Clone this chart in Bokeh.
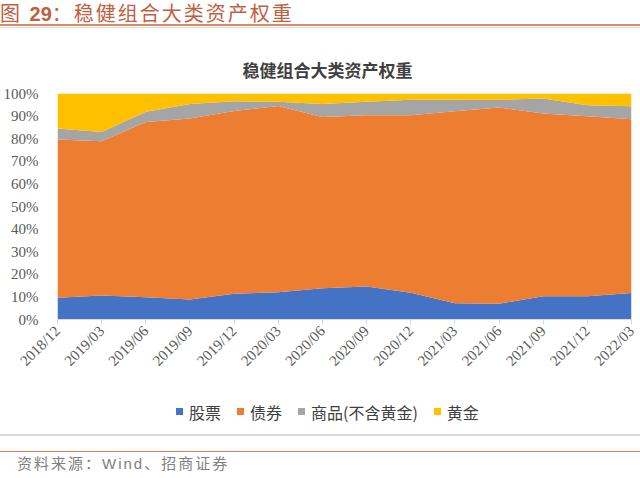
import math
from bokeh.plotting import figure
from bokeh.models import (ColumnDataSource, Range1d, FixedTicker, PrintfTickFormatter, Div)
from bokeh.layouts import column
from bokeh.embed import file_html
from bokeh.resources import INLINE

# ---- data ----
dates = ["2018/12", "2019/03", "2019/06", "2019/09", "2019/12", "2020/03", "2020/06",
         "2020/09", "2020/12", "2021/03", "2021/06", "2021/09", "2021/12", "2022/03"]
stock = [9.6, 10.6, 9.9, 8.9, 11.4, 12.1, 13.8, 14.6, 11.8, 7.2, 7.0, 10.3, 10.3, 11.7]
bond = [70.1, 68.3, 77.5, 80.0, 80.9, 82.4, 75.8, 75.8, 78.6, 85.0, 86.8, 80.8, 79.6, 76.9]
commodity = [4.8, 4.1, 4.5, 6.4, 4.3, 1.8, 5.7, 5.9, 6.8, 5.0, 3.4, 6.7, 4.9, 5.8]
gold = [15.5, 17.0, 8.1, 4.7, 3.4, 3.7, 4.7, 3.7, 2.8, 2.8, 2.8, 2.2, 5.2, 5.6]
series_names = ["股票", "债券", "商品(不含黄金)", "黄金"]
y_ticks = [0, 10, 20, 30, 40, 50, 60, 70, 80, 90, 100]

colors = ["#4472C4", "#ED7D31", "#A5A5A5", "#FFC000"]

idx = list(range(len(dates)))
source = ColumnDataSource(dict(x=idx, stock=stock, bond=bond, commodity=commodity, gold=gold))

p = figure(width=640, height=360, x_range=Range1d(0, len(dates) - 1), y_range=Range1d(0, 100),
           output_backend="svg", toolbar_location=None,
           min_border_left=56, min_border_right=9, min_border_top=63, min_border_bottom=71)
p.outline_line_color = None
p.xgrid.visible = False
p.ygrid.visible = False

# chart title
p.title.text = "稳健组合大类资产权重"
p.title.align = "left"
p.title.offset = 185
p.title.standoff = 24
p.title.text_font = "Noto Sans CJK SC"
p.title.text_font_style = "bold"
p.title.text_font_size = "17px"
p.title.text_color = "#404040"

p.varea_stack(["stock", "bond", "commodity", "gold"], x="x", color=colors, source=source)

# x axis
p.xaxis.ticker = FixedTicker(ticks=idx)
p.xaxis.major_label_overrides = {i: d for i, d in zip(idx, dates)}
p.xaxis.major_label_orientation = math.pi / 4
p.xaxis.axis_line_color = "#D9D9D9"
p.xaxis.major_tick_line_color = "#D9D9D9"
p.xaxis.major_tick_out = 5
p.xaxis.major_tick_in = 0
p.xaxis.minor_tick_line_color = None
p.xaxis.major_label_text_font = "Liberation Serif"
p.xaxis.major_label_text_font_size = "15px"
p.xaxis.major_label_text_color = "#595959"
p.xaxis.major_label_standoff = 4

# y axis
p.yaxis.ticker = FixedTicker(ticks=y_ticks)
p.yaxis.formatter = PrintfTickFormatter(format="%d%%")
p.yaxis.axis_line_color = None
p.yaxis.major_tick_line_color = None
p.yaxis.minor_tick_line_color = None
p.yaxis.major_label_text_font = "Liberation Serif"
p.yaxis.major_label_text_font_size = "15px"
p.yaxis.major_label_text_color = "#595959"
p.yaxis.major_label_standoff = 13

# legend as an HTML row under the chart
legend_html = "".join(
    "<span style=\"display:inline-block;width:7px;height:7px;background:%s;"
    "margin-right:6px;vertical-align:middle;\"></span>"
    "<span style=\"vertical-align:middle;margin-right:16px;\">%s</span>" % (c, n)
    for n, c in zip(series_names, colors))
legend_div = Div(width=640, height=44, margin=(0, 0, 0, 0), text=(
    "<div style=\"padding-left:176px;padding-top:10px;font-family:'Noto Sans CJK SC';"
    "font-size:16px;line-height:18px;color:#404040;white-space:nowrap;\">"
    + legend_html + "</div>"))

header = Div(width=640, height=30, margin=(0, 0, 0, 0), text=(
    "<div style=\"width:640px;height:26px;border-bottom:2px solid #DB8A68;"
    "font-family:'Liberation Sans','Noto Sans CJK SC';font-size:20px;line-height:28px;"
    "color:#C0603F;white-space:nowrap;\">"
    "<span style=\"letter-spacing:2px\">图 </span><b>29</b>"
    "<span style=\"letter-spacing:2px\">：稳健组合大类资产权重</span></div>"
    "<div style=\"width:640px;height:0;margin-top:1px;border-top:1px solid #E8DCD8;\"></div>"))

footer = Div(width=640, height=44, margin=(0, 0, 0, 0), text=(
    "<div style=\"width:640px;height:17px;border-top:2px solid #D9D9D9;\"></div>"
    "<div style=\"width:640px;border-top:1.5px solid #D9805C;padding-left:17px;"
    "font-family:'Liberation Sans','Noto Sans CJK SC';font-size:15px;line-height:20px;"
    "padding-top:2px;color:#808080;letter-spacing:2px;white-space:nowrap;\">"
    "资料来源：Wind、招商证券</div>"))

layout = column(header, p, legend_div, footer, spacing=0)

open("out.html", "w").write(file_html(layout, INLINE))
